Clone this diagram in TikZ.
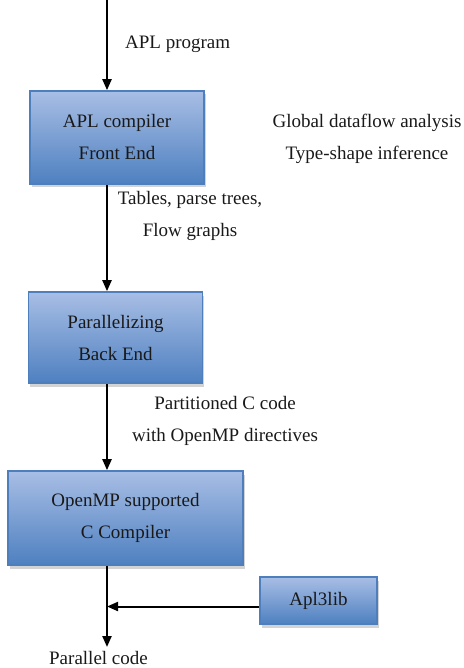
\documentclass[tikz,border=0pt]{standalone}
\usepackage{fontspec}
\setmainfont{Liberation Serif}
\usetikzlibrary{shadows,arrows.meta}
\definecolor{boxtop}{RGB}{168,190,229}
\definecolor{boxbot}{RGB}{78,128,192}
\definecolor{boxrim}{RGB}{78,126,188}
\definecolor{ink}{RGB}{25,25,25}
\tikzset{
  stage/.style={draw=boxrim, line width=1.6pt, top color=boxtop, bottom color=boxbot,
    text=ink, align=center, inner sep=0pt,
    drop shadow={shadow xshift=1.5pt, shadow yshift=-3.5pt, opacity=.35, fill=gray},
    font=\fontsize{19}{32}\selectfont},
  note/.style={text=ink, align=center, inner sep=0pt, font=\fontsize{19}{32}\selectfont},
  flow/.style={draw=black, line width=2.2pt, -{Triangle[width=9pt,length=11pt]}},
}
\begin{document}
\begin{tikzpicture}[x=1pt,y=-1pt]
\useasboundingbox (0,0) rectangle (463,668);

% compiler stages
\node[stage, minimum width=174pt, minimum height=93pt] (front) at (117,137.5)
  {APL compiler\\Front End};
\node[stage, minimum width=174pt, minimum height=91pt] (back) at (115.5,337.5)
  {Parallelizing\\Back End};
\node[stage, minimum width=235pt, minimum height=94pt] (cc) at (125.5,518)
  {OpenMP supported\\C Compiler};
\node[stage, minimum width=117pt, minimum height=47pt] (lib) at (318.5,600.5)
  {Apl3lib};

% spine of the data flow
\coordinate (src) at (107,0);
\coordinate (sink) at (107,647);
\coordinate (libout) at ([yshift=-6pt]lib.west);

\draw[flow] (src) -- (src |- front.north);
\draw[flow] (src |- front.south) -- (src |- back.north);
\draw[flow] (src |- back.south) -- (src |- cc.north);
\draw[flow] (src |- cc.south) -- (sink);
\draw[flow, line width=2pt] (libout) -- (src |- libout);

% labels
\node[note, anchor=west] (lblprog) at (125,44) {APL program};
\node[note] (lblana) at (367,139) {Global dataflow analysis\\Type-shape inference};
\node[note] (lbltab) at (190,216) {Tables, parse trees,\\Flow graphs};
\node[note] (lblpart) at (225,421) {Partitioned C code\\with OpenMP directives};
\node[note] (lblout) at (98.5,658) {Parallel code};
\end{tikzpicture}
\end{document}
